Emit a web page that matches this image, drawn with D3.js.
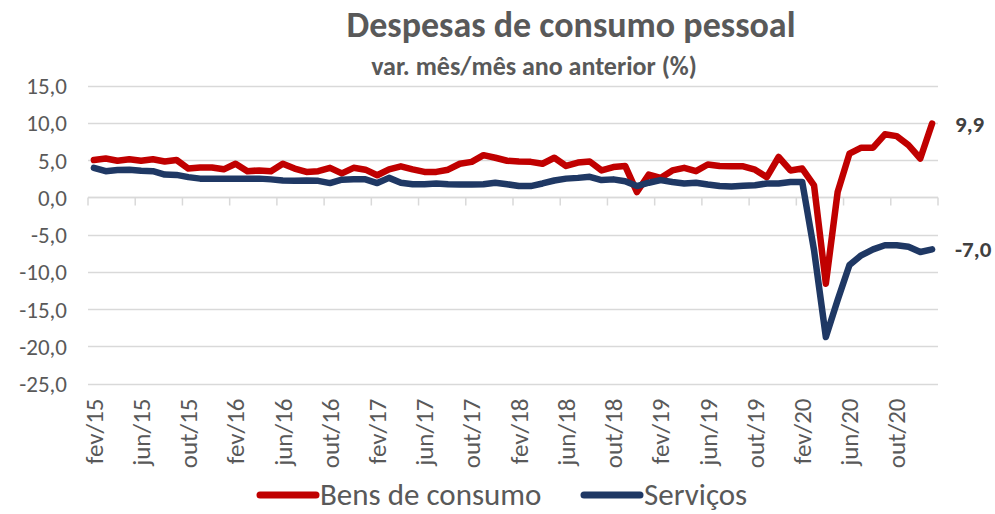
<!DOCTYPE html>
<html>
<head>
<meta charset="utf-8">
<script src="https://cdn.jsdelivr.net/npm/d3@7"></script>
<style>
  body { margin: 0; background: #fff; }
  svg text { font-family: Carlito, Lato, "Open Sans", sans-serif; }
</style>
</head>
<body>
<div id="chart"></div>
<script>
var w = 995;
var h = 514;

// categorias: fev/15 ... jan/21
var monthNames = ["jan", "fev", "mar", "abr", "mai", "jun", "jul", "ago", "set", "out", "nov", "dez"];
var months = [];
for (var k = 1; k < 73; k++) {
    months.push(monthNames[k % 12] + "/" + (15 + Math.floor(k / 12)));
}

var bens = [
    5.0, 5.2, 4.9, 5.1, 4.9, 5.1, 4.8, 5.0, 3.85, 4.0, 4.0, 3.75, 4.5, 3.5, 3.6, 3.5, 4.5, 3.85,
    3.4, 3.5, 3.95, 3.2, 3.95, 3.7, 2.95, 3.75, 4.15, 3.75, 3.4, 3.4, 3.7, 4.5, 4.75, 5.65, 5.3, 4.9,
    4.8, 4.75, 4.5, 5.3, 4.2, 4.65, 4.8, 3.6, 4.05, 4.2, 0.7, 3.05, 2.6, 3.6, 3.95, 3.5, 4.4, 4.2,
    4.15, 4.15, 3.7, 2.7, 5.4, 3.6, 3.85, 1.6, -11.6, 0.7, 5.85, 6.65, 6.65, 8.45, 8.2, 7.0, 5.2, 9.9
];
var servicos = [
    3.95, 3.5, 3.65, 3.7, 3.55, 3.5, 3.05, 3.0, 2.7, 2.5, 2.5, 2.5, 2.5, 2.5, 2.5, 2.4, 2.25, 2.2,
    2.25, 2.2, 1.9, 2.35, 2.4, 2.4, 1.9, 2.6, 1.95, 1.75, 1.75, 1.85, 1.75, 1.7, 1.7, 1.75, 1.95, 1.75,
    1.5, 1.5, 1.85, 2.25, 2.5, 2.6, 2.75, 2.3, 2.4, 2.15, 1.5, 1.95, 2.3, 2.05, 1.85, 1.95, 1.7, 1.5,
    1.45, 1.55, 1.6, 1.85, 1.85, 2.05, 2.05, -7.1, -18.75, -13.8, -9.1, -7.8, -7.0, -6.45, -6.45, -6.65, -7.35, -7.0
];
var yTicks = [15, 10, 5, 0, -5, -10, -15, -20, -25];
var seriesNames = ["Bens de consumo", "Serviços"];
var seriesColours = ["#C00000", "#1F3864"];

var plotLeft = 88, plotRight = 938, plotTop = 85.5, plotBottom = 383.5;

var svg = d3.select("#chart")
    .append("svg")
    .attr("width", w)
    .attr("height", h);

var x = d3.scaleBand()
    .domain(months)
    .range([plotLeft, plotRight]);

var y = d3.scaleLinear()
    .domain([-25, 15])
    .range([plotBottom, plotTop]);

var fmt = function(v) { return d3.format(".1f")(v).replace(".", ",").replace("−", "-"); };

// titulo
svg.append("text")
    .attr("x", 571)
    .attr("y", 37)
    .attr("text-anchor", "middle")
    .style("font-size", "36px")
    .style("font-weight", "bold")
    .style("fill", "#595959")
    .text("Despesas de consumo pessoal");

svg.append("text")
    .attr("x", 534)
    .attr("y", 75)
    .attr("text-anchor", "middle")
    .style("font-size", "26px")
    .style("font-weight", "bold")
    .style("fill", "#595959")
    .text("var. mês/mês ano anterior (%)");

// grade
svg.append("g")
    .selectAll("line")
    .data(yTicks)
    .enter().append("line")
    .attr("x1", plotLeft)
    .attr("x2", plotRight)
    .attr("y1", function(d) { return Math.round(y(d)) + 0.5; })
    .attr("y2", function(d) { return Math.round(y(d)) + 0.5; })
    .style("stroke", "#d9d9d9")
    .style("stroke-width", 1.5);

// eixo y
var yAxis = svg.append("g")
    .attr("transform", "translate(" + (plotLeft - 21) + ",0)")
    .call(d3.axisLeft(y).tickValues(yTicks).tickSize(0).tickFormat(fmt));
yAxis.select(".domain").remove();
yAxis.selectAll("text")
    .style("font-size", "23px")
    .style("fill", "#595959")
    .attr("x", 0)
    .attr("dy", "0.35em");

// eixo x no zero
var tickIdx = months.filter(function(d, i) { return i % 4 === 0; });
var zeroY = Math.round(y(0)) + 0.5;
svg.append("line")
    .attr("x1", plotLeft).attr("x2", plotRight)
    .attr("y1", zeroY).attr("y2", zeroY)
    .style("stroke", "#d9d9d9")
    .style("stroke-width", 1.5);
svg.append("g")
    .selectAll("line")
    .data(tickIdx.map(function(d) { return x(d); }).concat([plotRight]))
    .enter().append("line")
    .attr("x1", function(d) { return d; })
    .attr("x2", function(d) { return d; })
    .attr("y1", zeroY)
    .attr("y2", zeroY + 8)
    .style("stroke", "#d9d9d9")
    .style("stroke-width", 1.5);

var xAxis = svg.append("g")
    .attr("transform", "translate(0," + (plotBottom + 15) + ")")
    .call(d3.axisBottom(x).tickValues(tickIdx).tickSize(0));
xAxis.select(".domain").remove();
xAxis.selectAll("text")
    .style("font-size", "25px")
    .style("fill", "#595959")
    .attr("text-anchor", "end")
    .attr("transform", "rotate(-90)")
    .attr("x", 0)
    .attr("y", 0)
    .attr("dy", "0.35em");

// linhas
var line = d3.line()
    .x(function(d, i) { return x(months[i]) + x.bandwidth() / 2; })
    .y(function(d) { return y(d); });

[bens, servicos].forEach(function(s, j) {
    svg.append("path")
        .datum(s)
        .attr("d", line)
        .style("fill", "none")
        .style("stroke", seriesColours[j])
        .style("stroke-width", 6.5)
        .style("stroke-linejoin", "round")
        .style("stroke-linecap", "round");
});

// rotulos finais
[bens, servicos].forEach(function(s, j) {
    svg.append("text")
        .attr("x", 955)
        .attr("y", y(s[s.length - 1]))
        .attr("dy", "0.35em")
        .style("font-size", "23px")
        .style("font-weight", "bold")
        .style("fill", "#404040")
        .text(fmt(s[s.length - 1]));
});

// legenda
var legendX = [260, 584];
var leg = svg.append("g").selectAll("g")
    .data(seriesNames)
    .enter().append("g")
    .attr("transform", function(d, i) { return "translate(" + legendX[i] + ",495)"; });
leg.append("line")
    .attr("x1", 0).attr("x2", 56)
    .attr("y1", 0).attr("y2", 0)
    .style("stroke", function(d, i) { return seriesColours[i]; })
    .style("stroke-width", 7)
    .style("stroke-linecap", "round");
leg.append("text")
    .attr("x", 60)
    .attr("dy", "0.33em")
    .style("font-size", "31px")
    .style("fill", "#595959")
    .text(function(d) { return d; });
</script>
</body>
</html>
